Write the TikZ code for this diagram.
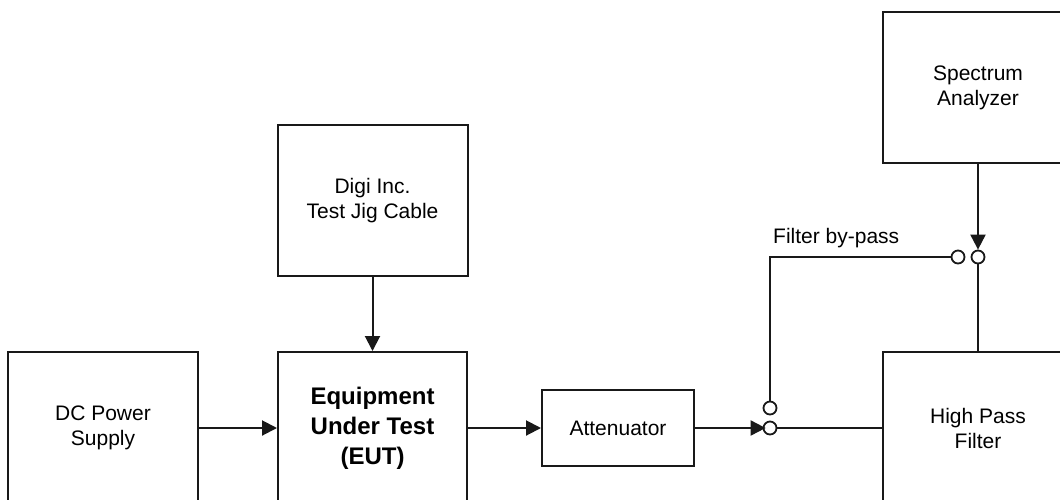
\documentclass[tikz,border=0pt]{standalone}
\usepackage{fontspec}
\setmainfont{Liberation Sans}
\usetikzlibrary{arrows.meta}
\begin{document}
\begin{tikzpicture}[x=1pt,y=-1pt,
  block/.style={draw=black!90, line width=2pt, align=center, inner sep=0pt,
    font=\fontsize{21}{25}\selectfont},
  boldblock/.style={block, font=\fontsize{24}{30}\selectfont\bfseries},
  port/.style={circle, draw=black!90, fill=white, line width=1.8pt,
    minimum size=13pt, inner sep=0pt},
  wire/.style={draw=black!90, line width=2pt},
  arr/.style={wire, -{Triangle[length=15pt,width=15pt]}}]
\useasboundingbox (0,0) rectangle (1060,499);
\fill[white] (0,0) rectangle (1060,499);
\clip (0,0) rectangle (1060,499);

% blocks
\node[block, minimum width=190pt, minimum height=152pt] (dc) at (103,428) {DC Power\\Supply};
\node[boldblock, minimum width=189pt, minimum height=152pt] (eut) at (372.5,428) {Equipment\\Under Test\\(EUT)};
\node[block, minimum width=190pt, minimum height=151pt] (digi) at (372.5,200.5) {Digi Inc.\\Test Jig Cable};
\node[block, minimum width=152pt, minimum height=76pt] (att) at (618,428) {Attenuator};
\node[block, minimum width=190pt, minimum height=152pt] (hpf) at (978,428) {High Pass\\Filter};
\node[block, minimum width=190pt, minimum height=151pt] (sa) at (978,87.5) {Spectrum\\Analyzer};

% switch contacts
\node[port] (cIn) at (770,428) {};
\node[port] (cUp) at (770,408) {};
\node[port] (cBy) at (958,257) {};
\node[port] (cSa) at (978,257) {};

% signal path
\draw[arr] (dc.east) -- (eut.west);
\draw[arr] (digi.south) -- (eut.north);
\draw[arr] (eut.east) -- (att.west);
\draw[wire] (cIn.east) -- (hpf.west |- cIn.east);
\draw[wire] (cUp.north) |- (cBy.west);
\draw[wire] (hpf.north) -- (cSa.south);
\draw[arr] (sa.south) -- (cSa.north);
\draw[arr, shorten >=-3pt] (att.east) -- (cIn.west);

\node[anchor=base west, inner sep=0pt, font=\fontsize{21}{25}\selectfont] (bypass) at (773,243) {Filter by-pass};
\end{tikzpicture}
\end{document}
